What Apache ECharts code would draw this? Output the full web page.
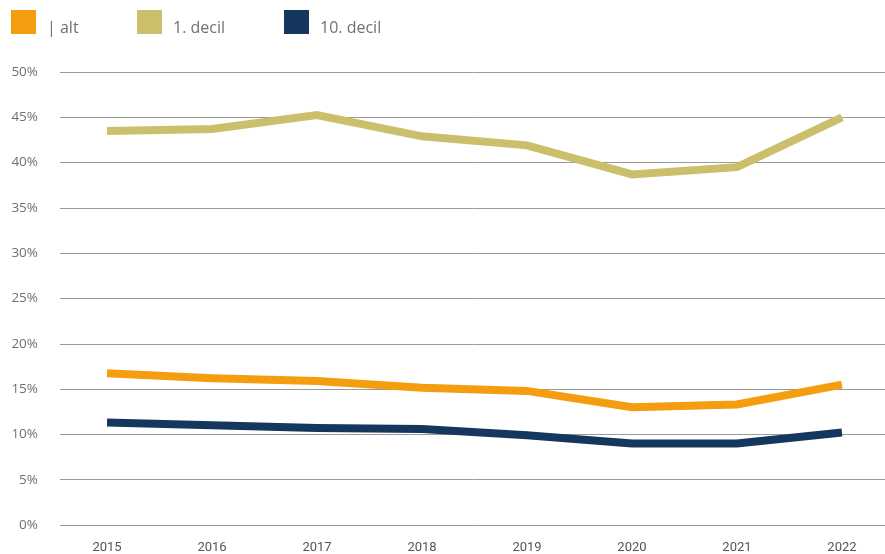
<!DOCTYPE html>
<html><head><meta charset="utf-8">
<script src="https://cdn.jsdelivr.net/npm/echarts@6/dist/echarts.min.js"></script>
<style>html,body{margin:0;padding:0;background:#fff}#c{width:885px;height:554px}</style>
</head><body><div id="c"></div>
<script>
var years = [2015, 2016, 2017, 2018, 2019, 2020, 2021, 2022];
var seriesNames = ['| alt', '1. decil', '10. decil'];
var altValues = [16.75, 16.2, 15.9, 15.15, 14.8, 13.0, 13.3, 15.5];
var decil1Values = [43.5, 43.7, 45.25, 42.9, 41.9, 38.7, 39.5, 45.0];
var decil10Values = [11.3, 11.0, 10.7, 10.6, 9.9, 9.0, 9.0, 10.2];
var colors = ['#F49D0E', '#CCBF6C', '#15375D'];

function pairs(vals){ return years.map(function(y,i){ return [y, vals[i]]; }); }
var chart = echarts.init(document.getElementById('c'), null, {renderer:'canvas'});
var legendBase = {
  top: 10, padding: 0, itemWidth: 25, itemHeight: 24, itemGap: 0, icon: 'rect',
  formatter: '{t|{name}}',
  textStyle: {
    color: '#707070', fontSize: 16, fontFamily: 'Open Sans',
    rich: {t: {color: '#707070', fontSize: 16, fontFamily: 'Open Sans', padding: [12,0,0,6]}}
  },
  selectedMode: false
};
var lefts = [11, 137, 284];
chart.setOption({
  animation: false,
  color: colors,
  legend: seriesNames.map(function(n,i){ return Object.assign({}, legendBase, {left: lefts[i], data: [n]}); }),
  grid: {left: 60, right: 0, top: 72, bottom: 29},
  xAxis: {
    type: 'value', min: 2014.552, max: 2022.41, splitNumber: 8,
    axisLine: {show: false}, axisTick: {show: false}, splitLine: {show: false},
    axisLabel: {
      color: '#555', fontSize: 13, fontFamily: 'Roboto', margin: 16,
      showMinLabel: false, showMaxLabel: false,
      formatter: function(v){ return Math.abs(v - Math.round(v)) < 1e-6 ? String(Math.round(v)) : ''; }
    }
  },
  yAxis: {
    type: 'value', min: 0, max: 50, interval: 5,
    axisLine: {show: false}, axisTick: {show: false},
    splitLine: {lineStyle: {color: '#9a9a9a', width: 1}},
    axisLabel: {color: '#707070', fontSize: 13.5, fontFamily: 'Open Sans', margin: 22, formatter: '{value}%'}
  },
  series: [
    {name: seriesNames[0], type: 'line', data: pairs(altValues)},
    {name: seriesNames[1], type: 'line', data: pairs(decil1Values)},
    {name: seriesNames[2], type: 'line', data: pairs(decil10Values)}
  ].map(function(s){ s.symbol = 'none'; s.lineStyle = {width: 8, cap: 'butt', join: 'miter'}; s.z = 1; return s; })
});
</script></body></html>
